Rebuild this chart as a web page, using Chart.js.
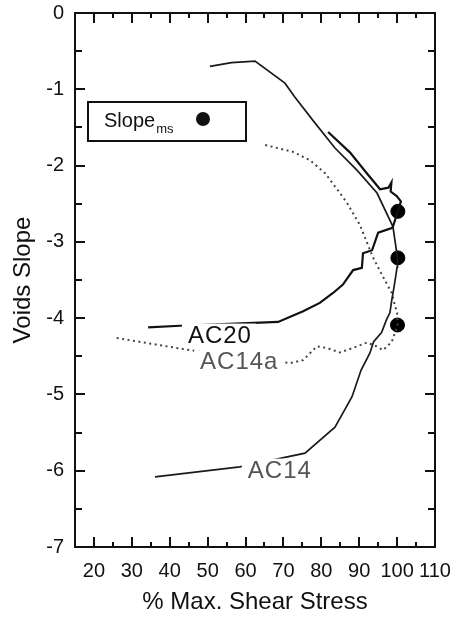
<!DOCTYPE html>
<html><head><meta charset="utf-8">
<script src="https://cdn.jsdelivr.net/npm/chart.js@4/dist/chart.umd.min.js"></script>
<style>html,body{margin:0;padding:0;background:#fff;}#wrap{width:456px;height:617px;position:relative;}</style>
</head><body><div id="wrap"><canvas id="c"></canvas></div>
<script>
// ---- data ----
const xTicks = [20,30,40,50,60,70,80,90,100,110];
const yTicks = [0,-1,-2,-3,-4,-5,-6,-7];

const ac20Stress = [34.3,42.7,63.8,68.6,75.2,79.6,83.1,85.7,88.4,90.7,91.0,93.4,95.0,98.6,98.9,100.2,101.0,99.9,98.3,98.5,97.7,95.5,92.0,87.6,81.8];
const ac20Slope  = [-4.12,-4.10,-4.06,-4.05,-3.91,-3.80,-3.67,-3.56,-3.37,-3.34,-3.15,-3.11,-2.88,-2.82,-2.80,-2.60,-2.47,-2.40,-2.34,-2.22,-2.29,-2.31,-2.10,-1.83,-1.56];

const ac14Stress = [36.1,58.5,75.7,83.6,86.2,88.1,90.5,92.8,93.8,95.9,97.2,98.1,98.6,99.2,100.0,100.1,98.9,94.7,89.4,83.6,78.3,73.0,70.4,62.5,56.3,50.6];
const ac14Slope  = [-6.08,-5.95,-5.77,-5.43,-5.20,-5.03,-4.68,-4.46,-4.31,-4.19,-4.02,-3.93,-3.76,-3.59,-3.33,-3.21,-2.80,-2.36,-2.06,-1.77,-1.44,-1.10,-0.92,-0.63,-0.65,-0.70];

const ac14aStress = [26.0,45.3,71.7,75.2,78.8,81.4,84.9,88.4,92.0,94.6,96.3,98.6,100.1,100.0,99.4,98.6,96.3,93.6,90.2,86.8,84.9,81.0,77.0,72.5,65.1];
const ac14aSlope  = [-4.26,-4.42,-4.59,-4.55,-4.37,-4.39,-4.45,-4.39,-4.32,-4.37,-4.42,-4.31,-4.10,-3.93,-3.83,-3.67,-3.46,-3.20,-2.78,-2.49,-2.36,-2.10,-1.93,-1.82,-1.73];

const msStress = [100.2,100.2,100.1];
const msSlope  = [-2.60,-3.21,-4.09];

const seriesNames = ['AC20','AC14','AC14a','Slope'];

const pts = (xs, ys) => xs.map((x, i) => ({x, y: ys[i]}));
const FONT = "'Liberation Sans', Arial, Helvetica, sans-serif";

// curve labels: [text, stress, slope(baseline), color]
const curveLabels = [
  ['AC20', 44.8, -4.32, '#111'],
  ['AC14a', 48.0, -4.67, '#555'],
  ['AC14', 60.6, -6.09, '#555']
];

const decor = {
  id: 'decor',
  afterDatasetsDraw(chart) {
    const {ctx, chartArea: a, scales: {x, y}} = chart;
    ctx.save();
    ctx.font = '24px ' + FONT;
    ctx.letterSpacing = '1px';
    ctx.textBaseline = 'alphabetic';
    ctx.textAlign = 'left';
    curveLabels.forEach(([t, sx, sy, col]) => {
      const px = x.getPixelForValue(sx), py = y.getPixelForValue(sy);
      const w = ctx.measureText(t).width;
      ctx.fillStyle = '#fff';
      ctx.fillRect(px - 6, py - 19, w + 10, 22);
      ctx.fillStyle = col;
      ctx.fillText(t, px, py);
    });
    ctx.letterSpacing = '0px';
    // legend box
    ctx.strokeStyle = '#111';
    ctx.lineWidth = 2;
    ctx.fillStyle = '#fff';
    ctx.fillRect(88, 102, 158, 39);
    ctx.strokeRect(88, 102, 158, 39);
    ctx.fillStyle = '#111';
    ctx.font = '20px ' + FONT;
    ctx.fillText('Slope', 104, 127);
    const sw = ctx.measureText('Slope').width;
    ctx.font = '13px ' + FONT;
    ctx.fillText('ms', 104 + sw + 1, 133);
    ctx.beginPath();
    ctx.arc(203, 119, 7, 0, Math.PI * 2);
    ctx.fill();
    // frame
    ctx.lineWidth = 2;
    ctx.strokeStyle = '#111';
    ctx.strokeRect(a.left, a.top, a.right - a.left, a.bottom - a.top);
    // ticks
    ctx.beginPath();
    for (let v = 20; v < 110; v += 5) {
      const px = Math.round(x.getPixelForValue(v));
      const len = (v % 10 === 0) ? 10 : 5;
      ctx.moveTo(px, a.bottom); ctx.lineTo(px, a.bottom - len);
      ctx.moveTo(px, a.top); ctx.lineTo(px, a.top + len);
    }
    for (let v = -6.5; v < 0; v += 0.5) {
      const py = Math.round(y.getPixelForValue(v));
      const len = (Number.isInteger(v)) ? 10 : 7;
      ctx.moveTo(a.left, py); ctx.lineTo(a.left + len, py);
      ctx.moveTo(a.right, py); ctx.lineTo(a.right - len, py);
    }
    ctx.stroke();
    ctx.restore();
  }
};

new Chart(document.getElementById('c'), {
  type: 'scatter',
  data: {
    datasets: [
      {label: seriesNames[0], data: pts(ac20Stress, ac20Slope), showLine: true, borderColor: '#111', borderWidth: 2.2, pointRadius: 0, tension: 0},
      {label: seriesNames[1], data: pts(ac14Stress, ac14Slope), showLine: true, borderColor: '#1a1a1a', borderWidth: 1.7, pointRadius: 0, tension: 0},
      {label: seriesNames[2], data: pts(ac14aStress, ac14aSlope), showLine: true, borderColor: '#444', borderWidth: 2, borderDash: [2, 3.5], pointRadius: 0, tension: 0},
      {label: seriesNames[3], data: pts(msStress, msSlope), showLine: false, backgroundColor: '#000', borderColor: '#000', pointRadius: 7, pointHoverRadius: 7}
    ]
  },
  options: {
    responsive: true,
    maintainAspectRatio: false,
    animation: false,
    devicePixelRatio: 1,
    layout: {padding: {left: 0, right: 21, top: 13, bottom: 0}},
    plugins: {legend: {display: false}, tooltip: {enabled: false}},
    scales: {
      x: {
        type: 'linear', min: 15, max: 110,
        afterBuildTicks: s => { s.ticks = xTicks.map(v => ({value: v})); },
        afterFit: s => { s.height = 70; s.paddingLeft = 0; s.paddingRight = 0; },
        grid: {display: false, drawTicks: false},
        border: {display: false},
        ticks: {color: '#111', font: {family: FONT, size: 20}, padding: 12, maxRotation: 0, autoSkip: false},
        title: {display: true, text: '% Max. Shear Stress', color: '#111', font: {family: FONT, size: 24}, padding: {top: 0, bottom: 0}}
      },
      y: {
        type: 'linear', min: -7, max: 0,
        afterBuildTicks: s => { s.ticks = yTicks.map(v => ({value: v})); },
        afterFit: s => { s.width = 75; s.paddingTop = 0; s.paddingBottom = 0; },
        grid: {display: false, drawTicks: false},
        border: {display: false},
        ticks: {color: '#111', font: {family: FONT, size: 20}, padding: 11, autoSkip: false},
        title: {display: true, text: 'Voids Slope', color: '#111', font: {family: FONT, size: 24}, padding: {top: 9, bottom: 0}}
      }
    }
  },
  plugins: [decor]
});
</script>
</body></html>
